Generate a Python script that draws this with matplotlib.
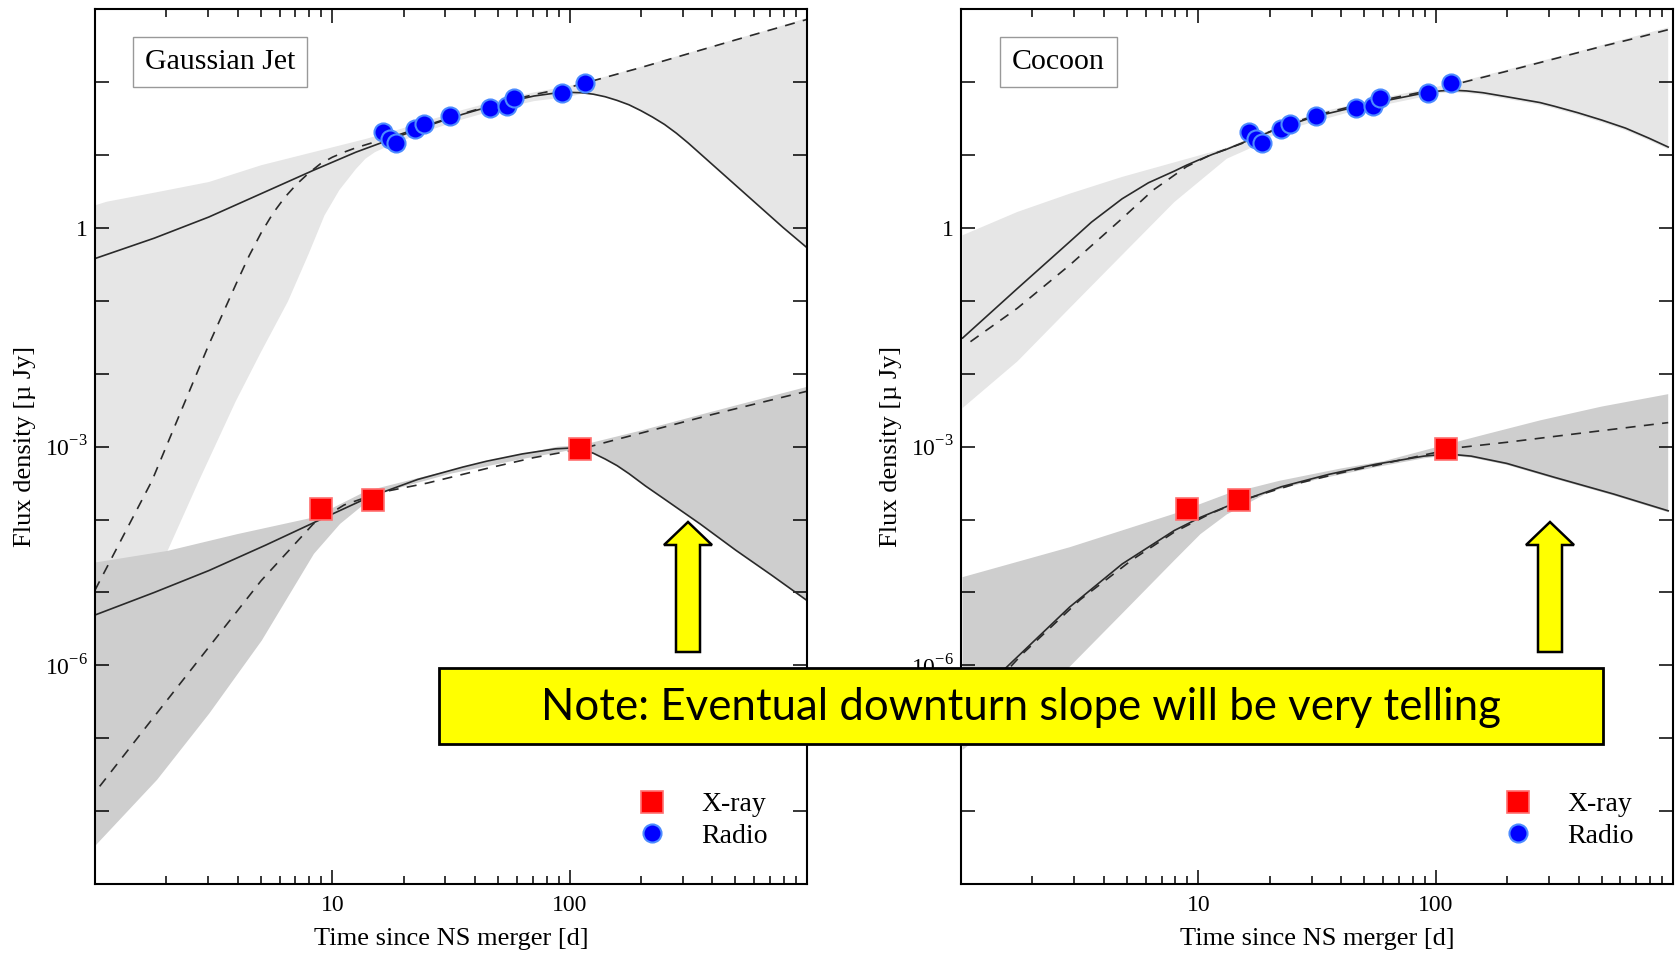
import numpy as np
import matplotlib
matplotlib.use("Agg")
import matplotlib.pyplot as plt
from matplotlib.patches import Rectangle, Polygon

plt.rcParams['font.family'] = ['Liberation Serif', 'DejaVu Serif']
plt.rcParams['mathtext.fontset'] = 'custom'
plt.rcParams['mathtext.rm'] = 'Liberation Serif'

# observed points (days, micro Jy)
radio_t = [16.4, 17.5, 18.6, 22.3, 24.3, 31.3, 46.3, 54.7, 58.2, 93.1, 115.9]
radio_f = [20.5, 16.6, 14.6, 22.7, 26.6, 34.6, 43.6, 47.5, 61.6, 70.5, 98.8]
xray_t = [9.0, 14.9, 111.0]
xray_f = [1.39e-4, 1.85e-4, 9.2e-4]

# ---- Gaussian jet model curves, log10(t) / log10(F)
gj_radio_solid_lt = [0.0, 0.25, 0.48, 0.70, 0.92, 1.10, 1.25, 1.40, 1.55, 1.70, 1.85, 1.95, 2.00,
                     2.05, 2.10, 2.15, 2.20, 2.25, 2.30, 2.35, 2.40, 2.45, 2.50, 2.60, 2.70, 2.80,
                     2.90, 3.00]
gj_radio_solid_lf = [-0.42, -0.14, 0.15, 0.47, 0.79, 1.04, 1.22, 1.40, 1.56, 1.70, 1.81, 1.855, 1.86,
                     1.855, 1.835, 1.80, 1.75, 1.69, 1.61, 1.52, 1.42, 1.30, 1.165, 0.875, 0.585,
                     0.295, 0.005, -0.27]
gj_radio_dash_lt = [0.0, 0.24, 0.48, 0.60, 0.65, 0.70, 0.75, 0.80, 0.85, 0.90, 0.95, 1.00, 1.05,
                    1.10, 1.15, 1.20, 1.25, 1.40, 1.55, 1.70, 1.85, 2.00, 2.10, 2.30, 2.50, 2.70,
                    2.85, 3.00]
gj_radio_dash_lf = [-4.97, -3.47, -1.60, -0.73, -0.38, -0.07, 0.20, 0.42, 0.60, 0.75, 0.88, 0.97,
                    1.04, 1.10, 1.15, 1.20, 1.245, 1.41, 1.57, 1.71, 1.83, 1.93, 2.02, 2.20, 2.39,
                    2.58, 2.72, 2.86]
gj_radio_up_lt = [0.0, 0.05, 0.26, 0.48, 0.70, 0.92, 1.14, 1.25, 1.40, 1.55, 1.70, 1.85, 2.00, 2.10,
                  2.30, 2.50, 2.70, 2.85, 3.00]
gj_radio_up_lf = [0.31, 0.36, 0.49, 0.63, 0.86, 1.04, 1.22, 1.32, 1.47, 1.62, 1.75, 1.86, 1.95, 2.03,
                  2.21, 2.40, 2.59, 2.73, 2.88]
gj_radio_lo_lt = [0.0, 0.15, 0.306, 0.438, 0.593, 0.70, 0.813, 0.90, 0.967, 1.03, 1.10, 1.14, 1.18,
                  1.22, 1.25, 1.40, 1.55, 1.70, 1.85, 2.00, 2.05, 2.10, 2.15, 2.20, 2.25, 2.30,
                  2.35, 2.40, 2.45, 2.50, 2.60, 2.70, 2.80, 2.90, 3.00]
gj_radio_lo_lf = [-6.5, -5.5, -4.43, -3.47, -2.38, -1.70, -1.01, -0.36, 0.17, 0.52, 0.81, 0.95, 1.04,
                  1.10, 1.14, 1.33, 1.49, 1.63, 1.74, 1.80, 1.84, 1.835, 1.80, 1.75, 1.69, 1.61,
                  1.52, 1.42, 1.30, 1.165, 0.875, 0.585, 0.295, 0.005, -0.27]

gj_xray_solid_lt = [0.0, 0.25, 0.48, 0.72, 0.97, 1.15, 1.36, 1.55, 1.65, 1.80, 1.94, 2.00, 2.05,
                    2.10, 2.15, 2.20, 2.25, 2.32, 2.40, 2.55, 2.70, 2.85, 3.00]
gj_xray_solid_lf = [-5.31, -5.00, -4.70, -4.35, -3.97, -3.70, -3.45, -3.28, -3.20, -3.10, -3.03,
                    -3.02, -3.04, -3.09, -3.17, -3.26, -3.37, -3.54, -3.72, -4.06, -4.42, -4.76,
                    -5.11]
gj_xray_dash_lt = [0.02, 0.26, 0.48, 0.70, 0.92, 1.05, 1.20, 1.40, 1.65, 1.85, 2.00, 2.05, 2.20,
                   2.40, 2.60, 2.80, 3.00]
gj_xray_dash_lf = [-7.66, -6.66, -5.75, -4.84, -4.06, -3.80, -3.63, -3.50, -3.30, -3.15, -3.06, -3.03,
                   -2.90, -2.73, -2.56, -2.40, -2.24]
gj_xray_up_lt = [0.0, 0.306, 0.60, 0.923, 1.143, 1.40, 1.70, 1.95, 2.05, 2.30, 2.60, 3.00]
gj_xray_up_lf = [-4.59, -4.43, -4.20, -3.97, -3.61, -3.40, -3.17, -3.00, -2.98, -2.78, -2.52, -2.18]
gj_xray_lo_lt = [0.0, 0.262, 0.482, 0.703, 0.923, 1.033, 1.187, 1.50, 1.80, 2.00, 2.05, 2.10, 2.15,
                 2.20, 2.25, 2.32, 2.40, 2.55, 2.70, 2.85, 3.00]
gj_xray_lo_lf = [-8.48, -7.57, -6.66, -5.66, -4.47, -4.06, -3.65, -3.37, -3.17, -3.05, -3.04, -3.09,
                 -3.17, -3.26, -3.37, -3.54, -3.72, -4.06, -4.42, -4.76, -5.11]

# ---- Cocoon model curves
co_radio_solid_lt = [0.007, 0.238, 0.458, 0.55, 0.679, 0.79, 0.899, 0.95, 1.0, 1.06, 1.12, 1.21,
                     1.35, 1.494, 1.65, 1.78, 1.95, 2.02, 2.067, 2.13, 2.20, 2.30, 2.44, 2.50,
                     2.60, 2.70, 2.80, 2.90, 2.98]
co_radio_solid_lf = [-1.51, -0.83, -0.19, 0.08, 0.40, 0.62, 0.78, 0.86, 0.93, 1.01, 1.08, 1.20,
                     1.38, 1.53, 1.65, 1.74, 1.85, 1.88, 1.89, 1.88, 1.855, 1.80, 1.72, 1.67,
                     1.58, 1.48, 1.37, 1.23, 1.11]
co_radio_dash_lt = [0.04, 0.238, 0.458, 0.679, 0.81, 0.95, 1.05, 1.21, 1.35, 1.50, 1.65, 1.80, 1.95,
                    2.07, 2.30, 2.50, 2.70, 2.85, 2.98]
co_radio_dash_lf = [-1.56, -1.10, -0.51, 0.13, 0.52, 0.84, 1.00, 1.19, 1.39, 1.55, 1.67, 1.77, 1.87,
                    1.96, 2.15, 2.32, 2.49, 2.61, 2.72]
co_radio_up_lt = [0.007, 0.238, 0.458, 0.679, 0.899, 1.12, 1.25, 1.50, 1.80, 2.07, 2.30, 2.60, 2.98]
co_radio_up_lf = [-0.10, 0.22, 0.47, 0.70, 0.90, 1.10, 1.28, 1.58, 1.80, 1.98, 2.17, 2.42, 2.75]
co_radio_lo_lt = [0.007, 0.238, 0.458, 0.679, 0.899, 1.12, 1.21, 1.35, 1.65, 1.95, 2.02, 2.067,
                  2.13, 2.20, 2.30, 2.44, 2.50, 2.60, 2.70, 2.80, 2.90, 2.98]
co_radio_lo_lf = [-2.47, -1.83, -1.10, -0.37, 0.355, 0.95, 1.08, 1.33, 1.60, 1.80, 1.85, 1.86, 1.85,
                  1.825, 1.77, 1.69, 1.64, 1.55, 1.45, 1.34, 1.20, 1.08]

co_xray_solid_lt = [0.0, 0.194, 0.458, 0.679, 0.899, 1.009, 1.15, 1.35, 1.55, 1.75, 1.95, 2.05, 2.15,
                    2.30, 2.50, 2.75, 2.98]
co_xray_solid_lf = [-6.62, -6.02, -5.20, -4.61, -4.15, -3.97, -3.78, -3.55, -3.38, -3.24, -3.13, -3.10,
                    -3.13, -3.23, -3.42, -3.65, -3.88]
co_xray_dash_lt = [0.0, 0.26, 0.502, 0.722, 0.90, 1.05, 1.20, 1.40, 1.60, 1.80, 2.00, 2.05, 2.30,
                   2.60, 2.98]
co_xray_dash_lf = [-6.75, -5.84, -5.10, -4.55, -4.17, -3.92, -3.72, -3.52, -3.36, -3.22, -3.08, -3.03,
                   -2.94, -2.82, -2.67]
co_xray_up_lt = [0.007, 0.458, 0.899, 1.12, 1.34, 1.60, 1.78, 2.00, 2.20, 2.44, 2.70, 2.98]
co_xray_up_lf = [-4.79, -4.38, -3.92, -3.65, -3.47, -3.30, -3.20, -3.01, -2.84, -2.64, -2.45, -2.28]
co_xray_lo_lt = [0.007, 0.458, 0.679, 0.899, 1.009, 1.12, 1.30, 1.50, 1.75, 1.95, 2.05, 2.15, 2.30,
                 2.50, 2.75, 2.98]
co_xray_lo_lf = [-7.16, -6.02, -5.29, -4.56, -4.20, -3.93, -3.62, -3.45, -3.28, -3.16, -3.12, -3.15,
                 -3.25, -3.44, -3.67, -3.90]

panels = [
    dict(title="Gaussian Jet", tx=0.1756,
         r_sol=(gj_radio_solid_lt, gj_radio_solid_lf), r_dash=(gj_radio_dash_lt, gj_radio_dash_lf),
         r_up=(gj_radio_up_lt, gj_radio_up_lf), r_lo=(gj_radio_lo_lt, gj_radio_lo_lf),
         x_sol=(gj_xray_solid_lt, gj_xray_solid_lf), x_dash=(gj_xray_dash_lt, gj_xray_dash_lf),
         x_up=(gj_xray_up_lt, gj_xray_up_lf), x_lo=(gj_xray_lo_lt, gj_xray_lo_lf)),
    dict(title="Cocoon", tx=0.137,
         r_sol=(co_radio_solid_lt, co_radio_solid_lf), r_dash=(co_radio_dash_lt, co_radio_dash_lf),
         r_up=(co_radio_up_lt, co_radio_up_lf), r_lo=(co_radio_lo_lt, co_radio_lo_lf),
         x_sol=(co_xray_solid_lt, co_xray_solid_lf), x_dash=(co_xray_dash_lt, co_xray_dash_lf),
         x_up=(co_xray_up_lt, co_xray_up_lf), x_lo=(co_xray_lo_lt, co_xray_lo_lf)),
]


def p10(a):
    return 10 ** np.asarray(a, dtype=float)


def band(ax, up, lo, color):
    xs = np.r_[p10(up[0]), p10(lo[0])[::-1]]
    ys = np.r_[p10(up[1]), p10(lo[1])[::-1]]
    ax.fill(xs, ys, color=color, lw=0, zorder=1)


fig = plt.figure(figsize=(16.8, 9.55), dpi=100)
lefts = [0.0565, 0.572]

for left, p in zip(lefts, panels):
    ax = fig.add_axes([left, 0.0743, 0.4238, 0.916])
    ax.set_xscale('log')
    ax.set_yscale('log')
    ax.set_xlim(1, 1000)
    ax.set_ylim(1e-9, 1e3)

    band(ax, p['r_up'], p['r_lo'], '#e6e6e6')
    band(ax, p['x_up'], p['x_lo'], '#cecece')

    for key, ls in [('r_sol', '-'), ('r_dash', (0, (6, 5))), ('x_sol', '-'), ('x_dash', (0, (6, 5)))]:
        lt, lf = p[key]
        ax.plot(p10(lt), p10(lf), color='#2a2a2a', lw=1.2, ls=ls, zorder=2)

    ax.plot(xray_t, xray_f, 's', color='#ff0000', mec='#ff7070', mew=1.2, ms=16.5, zorder=4,
            label='X-ray')
    ax.plot(radio_t, radio_f, 'o', color='#0000ff', mec='#4d8cff', mew=1.5, ms=13, zorder=3,
            label='Radio')

    ax.set_xticks([10, 100])
    ax.set_xticklabels(['10', '100'])
    ax.set_xticks([v * d for d in (1, 10, 100) for v in range(2, 10)], minor=True)
    ax.set_xticklabels([], minor=True)
    yt = [10.0 ** k for k in range(-9, 4)]
    ylab = {0: '1', -3: '$10^{-3}$', -6: '$10^{-6}$'}
    ax.set_yticks(yt)
    ax.set_yticklabels([ylab.get(k, '') for k in range(-9, 4)])
    ax.yaxis.set_minor_locator(matplotlib.ticker.NullLocator())
    ax.tick_params(which='both', direction='in', top=True, right=True, labelsize=17, width=1.1)
    ax.tick_params(which='major', length=10)
    ax.tick_params(which='minor', length=6)
    ax.tick_params(axis='x', pad=8)
    ax.tick_params(axis='y', pad=5)
    for s in ax.spines.values():
        s.set_linewidth(1.5)

    ax.set_xlabel('Time since NS merger [d]', fontsize=19)
    ax.set_ylabel('Flux density [µ Jy]', fontsize=19)
    ax.xaxis.set_label_coords(0.5, -0.05)
    ax.yaxis.set_label_coords(-0.083, 0.5)

    ax.text(p['tx'], 0.94, p['title'], transform=ax.transAxes, fontsize=21.5, ha='center',
            va='center', bbox=dict(boxstyle='square,pad=0.4', fc='white', ec='#999999', lw=1))

    ax.legend(loc='lower right', bbox_to_anchor=(0.972, 0.018), frameon=False, fontsize=20,
              handletextpad=0.75, labelspacing=0.22, borderpad=0.2)

# annotation box and arrows (figure pixel units)
W, H = 1680.0, 955.0
fig.patches.append(Rectangle((439 / W, 1 - 744 / H), (1603 - 439) / W, (744 - 668) / H,
                             transform=fig.transFigure, fc='#ffff00', ec='black', lw=2, zorder=10))
fig.text((439 + 1603) / 2 / W, 1 - 708 / H, 'Note: Eventual downturn slope will be very telling',
         ha='center', va='center', fontsize=31.5, family=['Lato', 'DejaVu Sans'], zorder=11)

for cx in (688, 1550):
    pts = [(cx, 522), (cx + 24, 545), (cx + 12, 545), (cx + 12, 652), (cx - 12, 652),
           (cx - 12, 545), (cx - 24, 545)]
    fig.patches.append(Polygon([(x / W, 1 - y / H) for x, y in pts], closed=True,
                               transform=fig.transFigure, fc='#ffff00', ec='black', lw=1.8,
                               zorder=10))

fig.savefig('out.png', dpi=100)
